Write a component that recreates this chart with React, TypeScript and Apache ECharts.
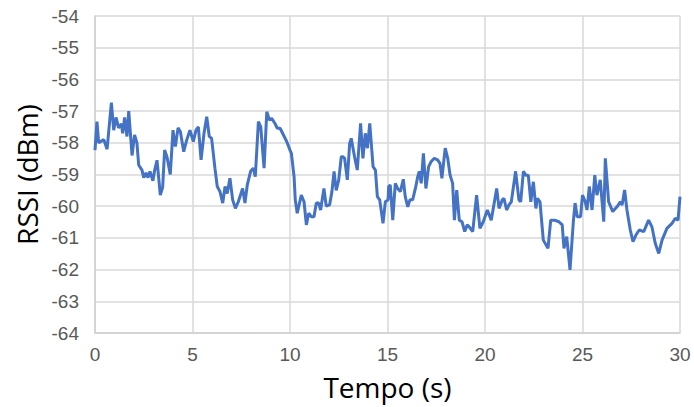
import React, { useEffect, useRef } from "react";
import * as echarts from "echarts";

const times = [
  0, 0.1, 0.19, 0.45, 0.62, 0.84, 0.96, 1.08, 1.21, 1.35, 1.42, 1.52, 1.64, 1.73, 1.9, 2.03, 2.15, 2.24, 2.41, 2.5,
  2.62, 2.72, 2.82, 2.97, 3.06, 3.18, 3.35, 3.47, 3.57, 3.69, 3.86, 4.0, 4.12, 4.26, 4.38, 4.55, 4.68, 4.87, 5.04, 5.18,
  5.3, 5.44, 5.59, 5.73, 5.86, 5.98, 6.15, 6.27, 6.41, 6.55, 6.67, 6.78, 6.92, 7.06, 7.2, 7.35, 7.57, 7.69, 7.81, 7.98,
  8.12, 8.22, 8.38, 8.5, 8.67, 8.81, 8.94, 9.06, 9.23, 9.35, 9.49, 9.62, 9.83, 10.0, 10.07, 10.21, 10.27, 10.37, 10.58, 10.72,
  10.84, 10.96, 11.09, 11.23, 11.35, 11.47, 11.57, 11.74, 11.86, 12.03, 12.15, 12.26, 12.37, 12.5, 12.63, 12.72, 12.8, 12.94, 13.06, 13.14,
  13.31, 13.45, 13.62, 13.74, 13.86, 13.97, 14.09, 14.26, 14.38, 14.48, 14.6, 14.77, 14.89, 15.03, 15.06, 15.14, 15.27, 15.4, 15.52, 15.66,
  15.81, 15.91, 16.04, 16.15, 16.29, 16.43, 16.55, 16.63, 16.73, 16.84, 16.97, 17.11, 17.23, 17.4, 17.57, 17.69, 17.79, 17.96, 18.09, 18.21,
  18.34, 18.43, 18.55, 18.68, 18.82, 18.96, 19.09, 19.19, 19.37, 19.57, 19.74, 19.91, 20.12, 20.32, 20.6, 20.72, 20.89, 20.97, 21.11, 21.23,
  21.35, 21.57, 21.74, 21.83, 21.97, 22.09, 22.22, 22.35, 22.48, 22.61, 22.69, 22.82, 22.99, 23.23, 23.37, 23.57, 23.79, 23.96, 24.05, 24.19,
  24.36, 24.53, 24.62, 24.73, 24.9, 25.0, 25.14, 25.23, 25.35, 25.49, 25.63, 25.74, 25.91, 26.09, 26.17, 26.34, 26.55, 26.77, 26.94, 27.03,
  27.16, 27.28, 27.45, 27.59, 27.74, 27.91, 28.14, 28.39, 28.56, 28.73, 28.91, 29.08, 29.33, 29.59, 29.76, 29.9, 30.0,
];

const rssi = [
  -58.23, -57.33, -58.0, -57.9, -58.2, -56.73, -57.6, -57.2, -57.53, -57.4, -57.7, -57.2, -57.8, -57.0, -58.4, -57.75, -58.0, -58.7, -58.86, -59.1,
  -58.95, -59.1, -58.9, -59.2, -58.86, -58.55, -59.65, -59.4, -58.23, -58.44, -59.0, -57.6, -58.12, -57.53, -57.65, -58.28, -57.96, -57.6, -57.96, -57.6,
  -57.5, -58.54, -57.7, -57.18, -57.8, -57.86, -58.8, -59.38, -59.54, -59.9, -59.38, -59.6, -59.12, -59.8, -60.07, -59.86, -59.44, -59.9, -59.33, -58.9,
  -58.8, -59.07, -57.33, -57.5, -58.8, -57.02, -57.28, -57.23, -57.39, -57.54, -57.54, -57.7, -57.96, -58.23, -58.33, -59.07, -59.8, -60.22, -59.65, -59.86,
  -60.59, -60.22, -60.33, -60.33, -59.9, -59.9, -60.12, -59.44, -60.0, -59.96, -59.54, -58.9, -59.5, -59.17, -58.44, -58.44, -58.49, -59.17, -58.02, -57.86,
  -58.44, -58.86, -57.39, -58.49, -57.7, -58.17, -57.39, -58.75, -58.86, -59.7, -59.8, -60.54, -59.86, -59.8, -59.38, -59.33, -60.44, -59.28, -59.44, -59.54,
  -59.15, -59.7, -60.02, -59.8, -59.8, -59.44, -59.07, -58.9, -59.28, -58.33, -59.44, -58.75, -58.6, -58.49, -58.54, -58.65, -59.12, -58.17, -58.49, -59.02,
  -59.28, -60.44, -59.49, -60.44, -60.49, -60.8, -60.59, -60.65, -60.8, -59.65, -60.7, -60.49, -60.12, -60.44, -59.44, -60.07, -59.8, -59.75, -60.12, -59.96,
  -59.86, -58.9, -59.8, -59.86, -58.9, -59.02, -59.02, -59.86, -59.23, -60.07, -59.75, -59.86, -61.07, -61.33, -60.44, -60.44, -60.49, -60.59, -61.33, -60.96,
  -62.01, -60.49, -59.9, -60.33, -60.33, -59.65, -59.86, -60.12, -59.38, -60.12, -59.02, -59.65, -59.17, -60.49, -58.49, -59.86, -60.17, -60.02, -59.86, -59.96,
  -59.49, -60.12, -60.75, -61.12, -60.91, -60.75, -60.8, -60.44, -60.65, -61.17, -61.49, -61.07, -60.7, -60.54, -60.38, -60.44, -59.7,
];

const xTicks = { min: 0, max: 30, interval: 5 };
const yTicks = { min: -64, max: -54, interval: 1 };
const xName = "Tempo (s)";
const yName = "RSSI (dBm)";

export default function App() {
  const ref = useRef<HTMLDivElement>(null);
  useEffect(() => {
    if (!ref.current) return;
    const chart = echarts.init(ref.current, null, { renderer: "svg" });
    const data = times.map((t, i) => [t, rssi[i]]);
    chart.setOption({
      animation: false,
      backgroundColor: "#ffffff",
      grid: { left: 95, right: 14, top: 16, bottom: 74, containLabel: false },
      xAxis: {
        type: "value",
        min: xTicks.min,
        max: xTicks.max,
        interval: xTicks.interval,
        name: xName,
        nameLocation: "middle",
        nameGap: 40,
        nameTextStyle: { fontSize: 28, color: "#000", fontFamily: "Open Sans" },
        axisLine: { show: true, lineStyle: { color: "#d0d0d0", width: 1.5 } },
        axisTick: { show: false },
        axisLabel: { fontSize: 19, color: "#595959", margin: 12, fontFamily: "Liberation Sans" },
        splitLine: { show: true, lineStyle: { color: "#d9d9d9", width: 1.5 } },
      },
      yAxis: {
        type: "value",
        min: yTicks.min,
        max: yTicks.max,
        interval: yTicks.interval,
        name: yName,
        nameLocation: "middle",
        nameGap: 52,
        nameTextStyle: { fontSize: 28, color: "#000", fontFamily: "Open Sans" },
        axisLine: { show: true, lineStyle: { color: "#d0d0d0", width: 1.5 } },
        axisTick: { show: false },
        axisLabel: { fontSize: 19, color: "#595959", margin: 16, fontFamily: "Liberation Sans" },
        splitLine: { show: true, lineStyle: { color: "#d9d9d9", width: 1.5 } },
      },
      series: [
        {
          type: "line",
          data,
          symbol: "none",
          lineStyle: { color: "#4472C4", width: 3 },
        },
      ],
    });
    return () => chart.dispose();
  }, []);
  return <div ref={ref} style={{ width: 694, height: 407, position: "absolute", left: 0, top: 0 }} />;
}
